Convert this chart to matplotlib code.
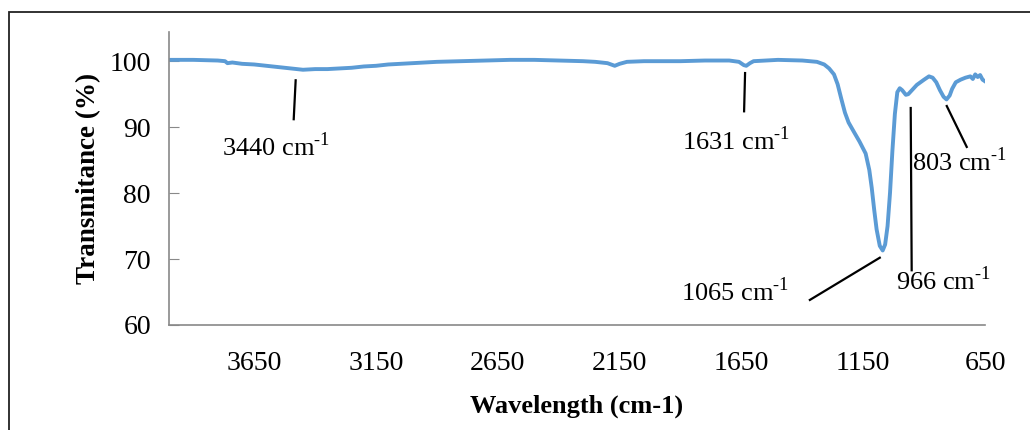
import numpy as np
import matplotlib
matplotlib.use('Agg')
import matplotlib.pyplot as plt
from matplotlib.patches import Rectangle

plt.rcParams['font.family'] = 'Liberation Serif'
plt.rcParams['mathtext.fontset'] = 'custom'
plt.rcParams['mathtext.rm'] = 'Liberation Serif'

# FTIR spectrum
wavenumber = [4000, 3900, 3800, 3770, 3760, 3740, 3700, 3650, 3600, 3550, 3500,
              3450, 3400, 3350, 3300, 3250, 3200, 3150, 3100, 3000, 2900, 2800,
              2700, 2600, 2500, 2400, 2300, 2250, 2200, 2170, 2150, 2120, 2050,
              1900, 1800, 1700, 1660, 1640, 1630, 1615, 1600, 1500, 1400, 1340,
              1310, 1290, 1270, 1255, 1240, 1225, 1210, 1190, 1165, 1140, 1125,
              1115, 1105, 1095, 1082, 1070, 1060, 1050, 1040, 1030, 1020, 1010,
              1000, 990, 975, 965, 950, 930, 900, 880, 865, 850, 835, 820, 808,
              795, 785, 770, 750, 730, 710, 700, 690, 680, 670, 660, 652]
transmittance = [100.2, 100.2, 100.1, 100.0, 99.7, 99.8, 99.6, 99.5, 99.3, 99.1, 98.9,
                 98.7, 98.8, 98.8, 98.9, 99.0, 99.2, 99.3, 99.5, 99.7, 99.9, 100.0,
                 100.1, 100.2, 100.2, 100.1, 100.0, 99.9, 99.7, 99.3, 99.6, 99.9, 100.0,
                 100.0, 100.1, 100.1, 99.9, 99.4, 99.3, 99.7, 100.0, 100.2, 100.1, 99.9,
                 99.5, 98.9, 98.0, 96.5, 94.3, 92.2, 90.7, 89.4, 87.8, 86.0, 83.5,
                 80.8, 77.5, 74.5, 72.0, 71.3, 72.2, 75.0, 80.0, 86.5, 92.0, 95.3,
                 95.9, 95.6, 94.9, 95.0, 95.6, 96.4, 97.2, 97.7, 97.5, 96.8, 95.6, 94.6, 94.2,
                 94.8, 95.8, 96.8, 97.2, 97.5, 97.7, 97.3, 98.0, 97.6, 97.9, 97.2, 97.0]

x_ticks = [3650, 3150, 2650, 2150, 1650, 1150, 650]
y_ticks = [60, 70, 80, 90, 100]

# peak labels: text, text position, line start, line end
peak_labels = ['3440', '1631', '1065', '966', '803']
text_pos = [(3783, 87.0), (1893, 88.0), (1898, 65.0), (1016, 66.8), (951, 84.7)]
line_pts = [((3480, 97.1), (3488, 91.2)),
            ((1635, 98.2), (1639, 92.4)),
            ((1082, 70.2), (1369, 63.8)),
            ((955, 92.9), (951, 68.3)),
            ((807, 93.2), (725, 87.0))]

fig = plt.figure(figsize=(10.3, 4.3), dpi=100)
ax = fig.add_axes([169/1030, 1-325/430, (985-169)/1030, (325-31.5)/430])

ax.plot(wavenumber, transmittance, color='#5B9BD5', lw=2.8)

ax.set_xlim(4000, 650)
ax.set_ylim(60, 104.5)
ax.set_xticks(x_ticks)
ax.set_yticks(y_ticks)
ax.tick_params(axis='x', length=0, labelsize=20, pad=19)
ax.tick_params(axis='y', direction='in', length=7, color='#898989', labelsize=20, pad=13)

for s in ['top', 'right']:
    ax.spines[s].set_visible(False)
for s in ['left', 'bottom']:
    ax.spines[s].set_color('#898989')
    ax.spines[s].set_linewidth(1.2)

ax.set_xlabel('Wavelength (cm-1)', fontsize=19, fontweight='bold', labelpad=13)
ax.set_ylabel('Transmitance (%)', fontsize=19.5, fontweight='bold', labelpad=6)

for lab, tp, (p0, p1) in zip(peak_labels, text_pos, line_pts):
    ax.plot([p0[0], p1[0]], [p0[1], p1[1]], color='black', lw=1.6, clip_on=False)
    ax.text(tp[0], tp[1], lab + ' cm$^{\\text{-1}}$', fontsize=19,
            ha='left', va='center', clip_on=False)

# outer frame
fig.patches.append(Rectangle((9/1030, -0.1), 1.2, 1.1 - 12/430, transform=fig.transFigure,
                             fill=False, ec='#222222', lw=1.3))

fig.savefig('out.png', dpi=100)
